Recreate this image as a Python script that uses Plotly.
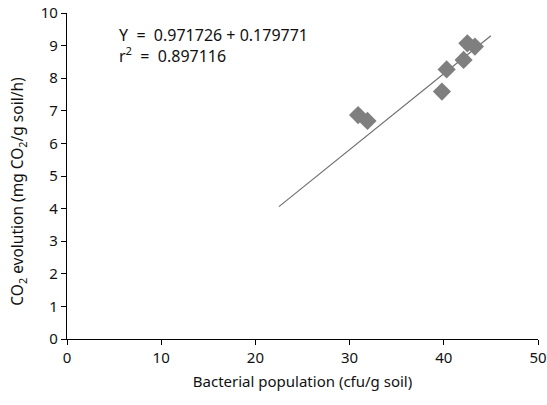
import plotly.graph_objects as go

# Observed samples
bacteria = [30.9, 31.9, 39.8, 40.3, 42.1, 42.5, 43.3]
co2 = [6.87, 6.69, 7.59, 8.27, 8.56, 9.07, 8.97]

# Trendline end points
trend_x = [22.5, 45.0]
trend_y = [4.06, 9.30]

x_ticks = [0, 10, 20, 30, 40, 50]
y_ticks = [0, 1, 2, 3, 4, 5, 6, 7, 8, 9, 10]

FONT = "Noto Sans"

fig = go.Figure()
fig.add_trace(go.Scatter(
    x=trend_x, y=trend_y, mode="lines",
    line=dict(color="#6e6e6e", width=1.2),
    showlegend=False, hoverinfo="skip",
))
fig.add_trace(go.Scatter(
    x=bacteria, y=co2, mode="markers",
    marker=dict(symbol="diamond", size=14, color="#7f7f7f",
                line=dict(width=0)),
    showlegend=False,
))

# Regression summary
fig.add_annotation(
    x=0, y=1, xref="paper", yref="paper",
    xshift=50, yshift=-9,
    xanchor="left", yanchor="top", align="left", showarrow=False,
    text="Y&nbsp; =&nbsp; 0.971726 + 0.179771<br>r<sup>2</sup>&nbsp; =&nbsp; 0.897116",
    font=dict(family=FONT, size=16, color="#111111"),
)

# Vertical axis title, placed slightly below the plot centre
fig.add_annotation(
    x=0, y=0.452, xref="paper", yref="paper",
    xshift=-49, textangle=-90,
    xanchor="center", yanchor="middle", showarrow=False,
    text="CO<sub>2</sub> evolution (mg CO<sub>2</sub>/g soil/h)",
    font=dict(family=FONT, size=15.5, color="#111111"),
)

axis_common = dict(
    showgrid=False, zeroline=False, showline=True,
    linecolor="black", linewidth=1.2,
    ticks="outside", ticklen=5, tickcolor="black", tickwidth=1.2,
    tickfont=dict(family=FONT, size=15, color="#111111"),
    automargin=False,
)

fig.update_layout(
    width=547, height=405,
    margin=dict(l=67, r=9, t=13, b=66),
    plot_bgcolor="white", paper_bgcolor="white",
    xaxis=dict(range=[0, 50], tickvals=x_ticks,
               title=dict(text="Bacterial population (cfu/g soil)",
                          font=dict(family=FONT, size=15, color="#111111"),
                          standoff=10),
               **axis_common),
    yaxis=dict(range=[0, 10], tickvals=y_ticks, **axis_common),
)

fig.write_html("out.html")
